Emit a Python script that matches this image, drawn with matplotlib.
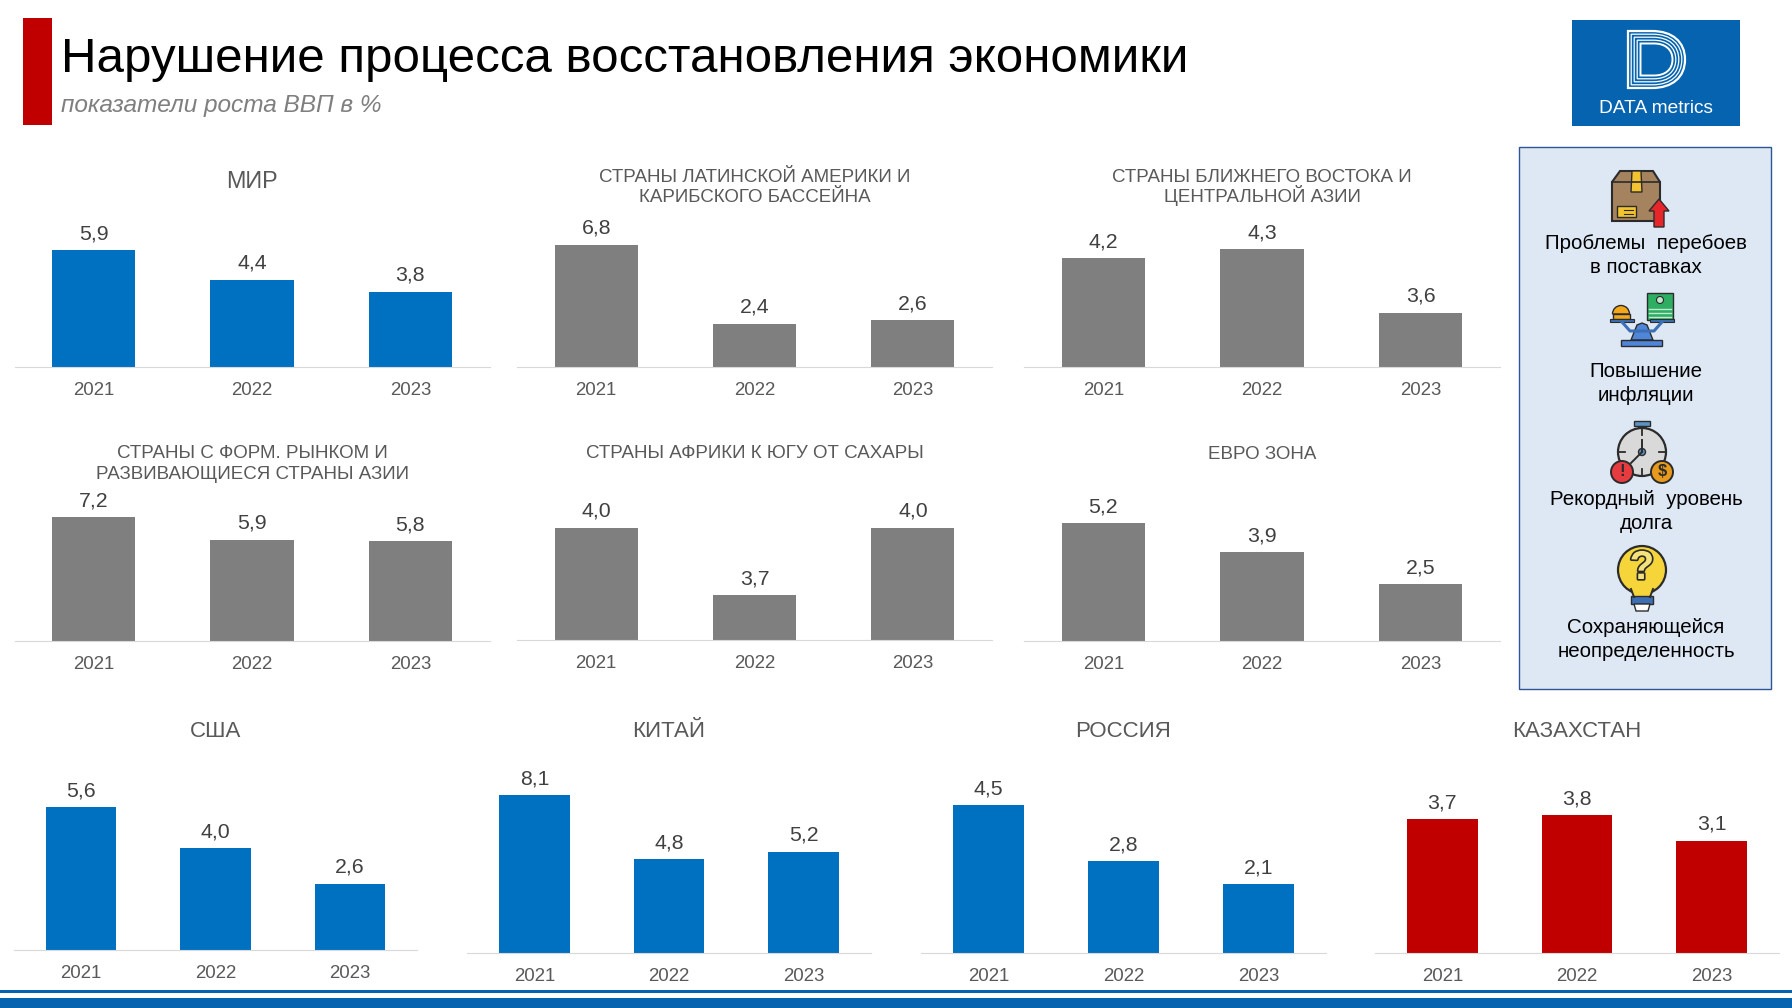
import matplotlib
matplotlib.use("Agg")
import matplotlib.pyplot as plt
import matplotlib.patheffects as pe
from matplotlib.patches import Rectangle, Polygon, Circle, PathPatch, Wedge
from matplotlib.path import Path

plt.rcParams['font.family'] = ['Liberation Sans', 'DejaVu Sans']

years = ['2021', '2022', '2023']
world = [5.9, 4.4, 3.8]
latam = [6.8, 2.4, 2.6]
mideast = [4.2, 4.3, 3.6]
asia = [7.2, 5.9, 5.8]
africa = [4.0, 3.7, 4.0]
euro = [5.2, 3.9, 2.5]
usa = [5.6, 4.0, 2.6]
china = [8.1, 4.8, 5.2]
russia = [4.5, 2.8, 2.1]
kazakhstan = [3.7, 3.8, 3.1]

BLUE, GREY, RED = '#0070C0', '#7F7F7F', '#C00000'
W, H = 1792, 1008
fig = plt.figure(figsize=(W / 100, H / 100), dpi=100, facecolor='white')
bg = fig.add_axes([0, 0, 1, 1], zorder=0)
bg.set_xlim(0, W)
bg.set_ylim(H, 0)
bg.axis('off')

# title and frame
bg.add_patch(Rectangle((23, 18), 29, 107, color=RED, lw=0))
bg.text(61, 59, 'Нарушение процесса восстановления экономики', fontsize=35.45, color='black', va='center', ha='left')
bg.text(61, 105.5, 'показатели роста ВВП в %', fontsize=17.6, style='italic', color='#7F7F7F', va='center', ha='left')
bg.add_patch(Rectangle((0, 990), W, 2.5, color='#0563AF', lw=0))
bg.add_patch(Rectangle((0, 998), W, 10, color='#0563AF', lw=0))

# logo
bg.add_patch(Rectangle((1572, 20), 168, 106, color='#0563AF', lw=0))
def d_path(x0, y0, x1, y1):
    xm = x0 + (x1 - x0) * 0.42
    ym = (y0 + y1) / 2
    k = 0.62
    return Path([(x0, y0), (xm, y0), (xm + (x1 - xm) * k, y0), (x1, ym - (ym - y0) * k), (x1, ym),
                 (x1, ym + (ym - y0) * k), (xm + (x1 - xm) * k, y1), (xm, y1), (x0, y1), (x0, y0)],
                [1, 2, 4, 4, 4, 4, 4, 4, 2, 79])
for inset, fc, ec, lw in [(0, 'none', 'white', 1.6), (3.2, 'none', 'white', 0.9), (6.2, 'none', 'white', 0.9),
                          (9.2, 'none', 'white', 0.9), (12.5, '#0563AF', 'white', 1.4)]:
    bg.add_patch(PathPatch(d_path(1628 + inset, 31 + inset, 1685 - inset, 88 - inset), fc=fc, ec=ec, lw=lw))
bg.text(1656, 108.5, 'DATA metrics', fontsize=13.8, color='white', ha='center', va='center')

# side panel
bg.add_patch(Rectangle((1518.5, 146.5), 252, 542, fc='#DEE8F5', ec='#2F5597', lw=1.0))
side = [('Проблемы  перебоев\nв поставках', 1646, 255.5), ('Повышение\nинфляции', 1646, 383.5),
        ('Рекордный  уровень\nдолга', 1646, 511.5), ('Сохраняющейся\nнеопределенность', 1646, 639.5)]
for s, x, y in side:
    bg.text(x, y, s, fontsize=14.8, color='black', ha='center', va='center', linespacing=1.31)

K = '#2B2B2B'
# box icon
bg.add_patch(Polygon([(1612, 221), (1612, 182), (1620, 171), (1653, 171), (1660, 182), (1660, 221)], fc='#A5835F', ec=K, lw=1.5))
bg.plot([1612, 1660], [182, 182], color=K, lw=1.2)
bg.add_patch(Polygon([(1632, 171), (1641, 171), (1642, 192), (1631, 192)], fc='#F4C430', ec=K, lw=1))
bg.add_patch(Rectangle((1617, 206), 19, 11, fc='#F4C430', ec=K, lw=1))
for yy in (209.5, 213.5):
    bg.plot([1624, 1633], [yy, yy], color=K, lw=0.8)
bg.add_patch(Polygon([(1654, 227), (1654, 211), (1649, 211), (1659, 199), (1669, 211), (1664, 211), (1664, 227)], fc='#E8262A', ec=K, lw=1))
# scale icon
bg.add_patch(Rectangle((1647, 293), 26, 27, fc='#2EAE63', ec=K, lw=1))
bg.add_patch(Circle((1660, 300), 3.5, fc='#BFE8CC', ec=K, lw=0.8))
for yy in (309, 313, 317):
    bg.plot([1649, 1671], [yy, yy], color='#BFE8CC', lw=1)
bg.add_patch(Wedge((1621, 314), 8.5, 180, 360, fc='#F3A81C', ec=K, lw=1))
bg.add_patch(Rectangle((1613, 314), 17, 5, fc='#F3A81C', ec=K, lw=1))
bg.add_patch(Rectangle((1610, 319), 24, 3, fc='#3D6FB4', ec=K, lw=0.8))
bg.add_patch(Rectangle((1650, 319), 24, 3, fc='#3D6FB4', ec=K, lw=0.8))
bg.plot([1622, 1630, 1654, 1662], [322, 331, 331, 322], color='#3D6FB4', lw=2.2)
bg.add_patch(Polygon([(1642, 323), (1637, 325), (1631, 340), (1653, 340), (1647, 325)], fc='#4F86D9', ec=K, lw=1))
bg.add_patch(Rectangle((1621, 340), 41, 6, fc='#4F86D9', ec=K, lw=1))
# clock icon
bg.add_patch(Rectangle((1634, 421), 16, 5, fc='#5C93C5', ec=K, lw=1))
bg.add_patch(Rectangle((1638, 426), 8, 4, fc='#4C9A5A', ec=K, lw=0.8))
bg.add_patch(Circle((1642, 452), 24, fc='#D9D9D9', ec=K, lw=1.6))
for dx, dy, ex, ey in [(0, -23, 0, -17), (0, 23, 0, 17), (-23, 0, -17, 0), (23, 0, 17, 0)]:
    bg.plot([1642 + dx, 1642 + ex], [452 + dy, 452 + ey], color=K, lw=1.3)
bg.plot([1642, 1642], [452, 440], color=K, lw=1.4)
bg.plot([1642, 1631], [452, 463], color=K, lw=1.4)
bg.add_patch(Circle((1642, 452), 3.5, fc='#5C93C5', ec=K, lw=1))
bg.add_patch(Circle((1622, 472), 11, fc='#E63B3F', ec=K, lw=1.4))
bg.text(1622, 472, '!', color=K, fontsize=12, fontweight='bold', ha='center', va='center')
bg.add_patch(Circle((1662, 472), 11, fc='#E89A1C', ec=K, lw=1.4))
bg.text(1662, 472, '$', color=K, fontsize=12, fontweight='bold', ha='center', va='center')
# bulb icon
bg.add_patch(Circle((1642, 570), 24, fc='#F5D53A', ec=K, lw=1.6))
bg.add_patch(Polygon([(1631, 588), (1653, 588), (1650, 597), (1634, 597)], fc='#F5D53A', ec='none'))
bg.plot([1631, 1634], [589, 597], color=K, lw=1.4)
bg.plot([1653, 1650], [589, 597], color=K, lw=1.4)
bg.add_patch(Rectangle((1631, 596), 22, 8, fc='#3D6FB4', ec=K, lw=1))
bg.add_patch(Polygon([(1634, 604), (1650, 604), (1648, 611), (1636, 611)], fc='white', ec=K, lw=1))
bg.text(1642, 568, '?', color='#F5E27A', fontsize=29, fontweight='bold', ha='center', va='center',
        path_effects=[pe.withStroke(linewidth=2.4, foreground=K)])

# name, values, colour, left px, right px, baseline px, px per unit, ymin, title y px, title size
panels = [
    ('МИР', world, BLUE, 14.5, 489.5, 367, 19.8, 0, 179.4, 16.8),
    ('СТРАНЫ ЛАТИНСКОЙ АМЕРИКИ И\nКАРИБСКОГО БАССЕЙНА', latam, GREY, 517, 992, 367, 18.0, 0, 185.1, 13.5),
    ('СТРАНЫ БЛИЖНЕГО ВОСТОКА И\nЦЕНТРАЛЬНОЙ АЗИИ', mideast, GREY, 1024, 1500, 367, 90.5, 3, 185.1, 13.5),
    ('СТРАНЫ С ФОРМ. РЫНКОМ И\nРАЗВИВАЮЩИЕСЯ СТРАНЫ АЗИИ', asia, GREY, 14.5, 489.5, 641, 17.2, 0, 461.7, 13.5),
    ('СТРАНЫ АФРИКИ К ЮГУ ОТ САХАРЫ', africa, GREY, 517, 992, 640, 225, 3.5, 451.4, 13.5),
    ('ЕВРО ЗОНА', euro, GREY, 1024, 1500, 641, 22.7, 0, 452.5, 13.5),
    ('США', usa, BLUE, 14, 417, 950, 25.5, 0, 729, 16),
    ('КИТАЙ', china, BLUE, 467, 871, 953, 19.5, 0, 729, 16),
    ('РОССИЯ', russia, BLUE, 921, 1326, 953, 32.8, 0, 729, 16),
    ('КАЗАХСТАН', kazakhstan, RED, 1375, 1779, 953, 36.2, 0, 729, 16),
]
LINE_GAP = 20.6
for name, vals, col, l, r, base, ppu, ymin, ty, tsize in panels:
    ymax = ymin + (max(vals) - ymin) * 1.02
    h = ppu * (ymax - ymin)
    ax = fig.add_axes([l / W, 1 - base / H, (r - l) / W, h / H], zorder=2)
    ax.patch.set_alpha(0)
    ax.bar(years, vals, width=0.525, color=col)
    ax.set_ylim(ymin, ymax)
    ax.set_xlim(-0.5, 2.5)
    for s in ('top', 'left', 'right'):
        ax.spines[s].set_visible(False)
    ax.spines['bottom'].set_color('#D9D9D9')
    ax.set_yticks([])
    ax.tick_params(axis='x', length=0, pad=11, labelsize=13.4, labelcolor='#595959')
    for i, v in enumerate(vals):
        ax.annotate(f'{v:.1f}'.replace('.', ','), (i, v), xytext=(0, 5), textcoords='offset points',
                    ha='center', va='bottom', fontsize=15.3, color='#404040', annotation_clip=False)
    lines = name.split('\n')
    for j, line in enumerate(lines):
        y = ty + (j - (len(lines) - 1) / 2) * LINE_GAP + tsize / 2
        bg.text((l + r) / 2, y, line, fontsize=tsize, color='#595959', ha='center', va='baseline')

fig.savefig('out.png', dpi=100)
